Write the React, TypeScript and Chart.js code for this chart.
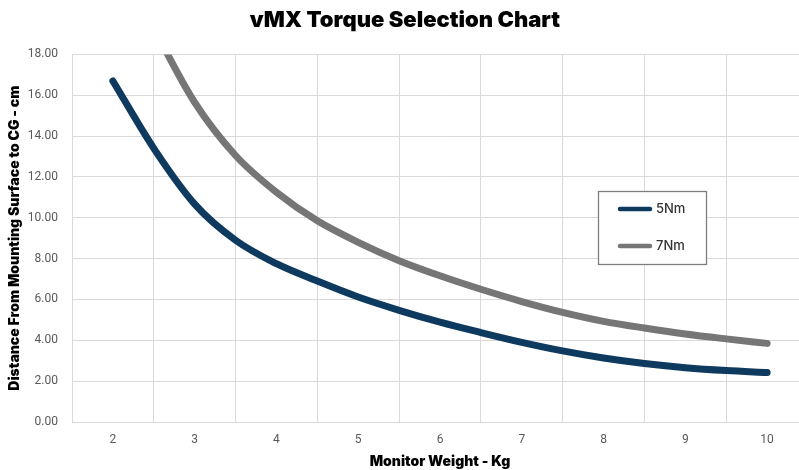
import React, { useEffect, useRef } from "react";
import { Chart, registerables } from "chart.js";

Chart.register(...registerables);

// ---- data ----
const chartTitle = "vMX Torque Selection Chart";
const xAxisTitle = "Monitor Weight - Kg";
const yAxisTitle = "Distance From Mounting Surface to CG - cm";
const seriesLabels = ["5Nm", "7Nm"];
const seriesColors = ["#0f3a5f", "#767676"];

const weights = [2, 2.5, 3, 3.5, 4, 4.5, 5, 5.5, 6, 6.5, 7, 7.5, 8, 8.5, 9, 9.5, 10];
const distance5Nm = [16.7, 13.4, 10.67, 8.9, 7.75, 6.9, 6.12, 5.47, 4.89, 4.38, 3.9, 3.48, 3.13, 2.86, 2.66, 2.52, 2.42];
const distance7Nm = [23.3, 19.3, 15.65, 13.05, 11.25, 9.85, 8.8, 7.9, 7.16, 6.5, 5.9, 5.37, 4.93, 4.6, 4.31, 4.07, 3.85];

const xMin = 1.5;
const xMax = 10.5;
const xStep = 0.5;
const yMin = 0;
const yMax = 18;
const yStep = 2;

const tickFont = { family: "Roboto", size: 12 };
const axisTitleFont = { family: "Inter", size: 14, weight: "900" as const };
const gridColor = "#d9d9d9";
const tickColor = "#595959";

const boxLegendPlugin = {
  id: "boxLegend",
  afterDraw(chart: any, _args: any, opts: any) {
    const ctx = chart.ctx as CanvasRenderingContext2D;
    const { x, y, w, h, rowY, lineX0, lineX1, textX } = opts;
    ctx.save();
    ctx.fillStyle = "#ffffff";
    ctx.fillRect(x, y, w, h);
    ctx.strokeStyle = "#7f7f7f";
    ctx.lineWidth = 1.3;
    ctx.strokeRect(x + 0.5, y + 0.5, w, h);
    chart.data.datasets.forEach((ds: any, i: number) => {
      const ly = rowY[i];
      ctx.beginPath();
      ctx.lineCap = "round";
      ctx.lineWidth = 4.5;
      ctx.strokeStyle = ds.borderColor;
      ctx.moveTo(lineX0, ly);
      ctx.lineTo(lineX1, ly);
      ctx.stroke();
      ctx.fillStyle = "#333333";
      ctx.font = "500 13px Inter";
      ctx.textBaseline = "middle";
      ctx.textAlign = "left";
      ctx.fillText(ds.label, textX, ly + 0.5);
    });
    ctx.restore();
  },
};

export default function App() {
  const canvasRef = useRef<HTMLCanvasElement | null>(null);

  useEffect(() => {
    if (!canvasRef.current) return;
    const series = [distance5Nm, distance7Nm];
    const chart = new Chart(canvasRef.current, {
      type: "line",
      data: {
        datasets: series.map((vals, i) => ({
          label: seriesLabels[i],
          data: weights.map((w, j) => ({ x: w, y: vals[j] })),
          borderColor: seriesColors[i],
          backgroundColor: seriesColors[i],
          borderWidth: 7,
          pointRadius: 0,
          pointHoverRadius: 0,
          cubicInterpolationMode: "monotone" as const,
          borderCapStyle: "round" as const,
          borderJoinStyle: "round" as const,
          clip: 0,
        })),
      },
      options: {
        responsive: false,
        animation: false,
        layout: { padding: { left: 0, right: 9, top: 0, bottom: 0 } },
        plugins: {
          legend: { display: false },
          tooltip: { enabled: false },
          title: {
            display: true,
            text: chartTitle,
            color: "#000000",
            font: { family: "Inter", size: 22, weight: "900" as any },
            padding: { top: 7, bottom: 21 },
          },
          boxLegend: {
            x: 598,
            y: 191,
            w: 108,
            h: 73,
            rowY: [209, 246],
            lineX0: 620,
            lineX1: 650,
            textX: 656,
          },
        } as any,
        scales: {
          x: {
            type: "linear",
            min: xMin,
            max: xMax,
            afterFit: (scale: any) => {
              scale.height = 48;
            },
            ticks: {
              stepSize: xStep,
              autoSkip: false,
              maxRotation: 0,
              padding: 11,
              color: tickColor,
              font: tickFont,
              callback: (v: any) => (Number.isInteger(Number(v)) ? String(v) : ""),
            },
            grid: {
              color: (c: any) =>
                c.tick && Number.isInteger(c.tick.value) ? "rgba(0,0,0,0)" : gridColor,
              drawTicks: false,
              lineWidth: 1,
            },
            border: { color: gridColor },
            title: {
              display: true,
              text: xAxisTitle,
              color: "#000000",
              font: axisTitleFont,
              padding: { top: 0, bottom: 0 },
            },
          },
          y: {
            min: yMin,
            max: yMax,
            afterFit: (scale: any) => {
              scale.width = 72;
            },
            ticks: {
              stepSize: yStep,
              padding: 14,
              color: tickColor,
              font: tickFont,
              callback: (v: any) => Number(v).toFixed(2),
            },
            grid: { color: gridColor, drawTicks: false, lineWidth: 1 },
            border: { color: gridColor },
            title: {
              display: true,
              text: yAxisTitle,
              color: "#000000",
              font: axisTitleFont,
              padding: { top: 6, bottom: 4 },
            },
          },
        },
      },
      plugins: [boxLegendPlugin],
    });
    return () => chart.destroy();
  }, []);

  return (
    <div
      style={{
        position: "fixed",
        left: 0,
        top: 0,
        width: 799,
        height: 470,
        overflow: "hidden",
        background: "#ffffff",
      }}
    >
      <canvas ref={canvasRef} width={819} height={470} style={{ width: 819, height: 470, display: "block" }} />
    </div>
  );
}
